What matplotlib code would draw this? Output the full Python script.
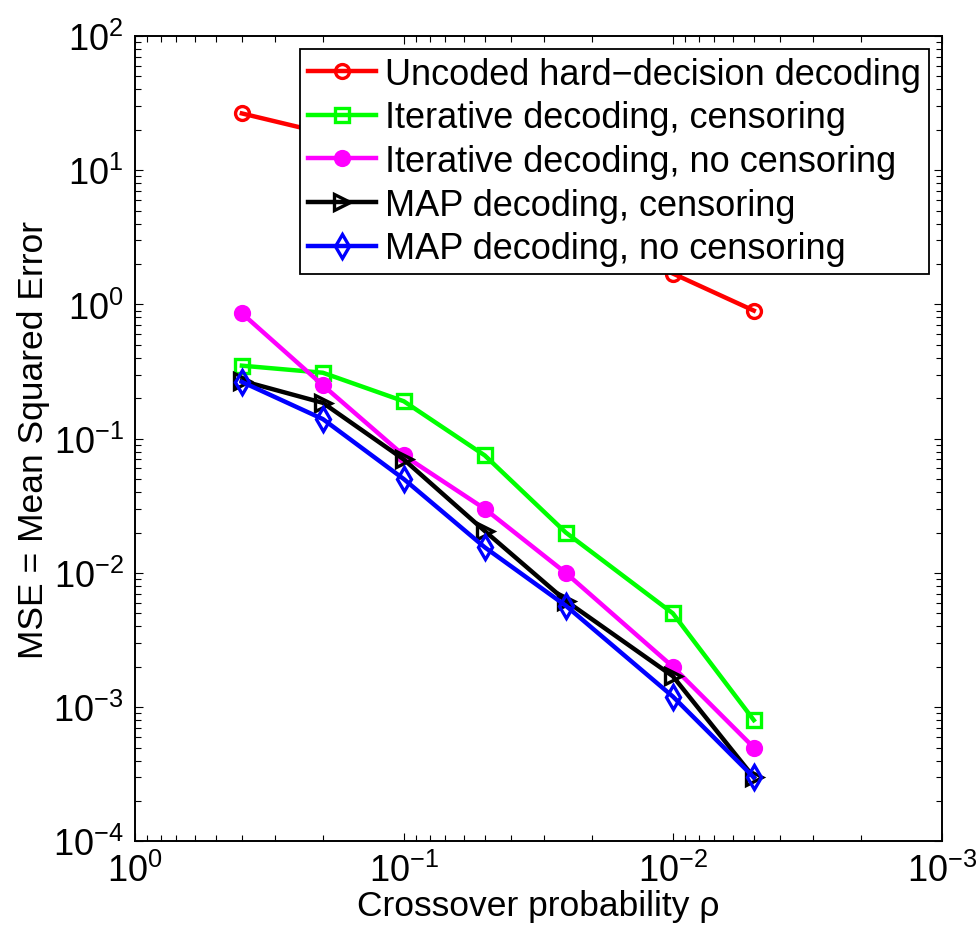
import matplotlib
matplotlib.use("Agg")
import matplotlib.pyplot as plt
from matplotlib.ticker import LogLocator, NullFormatter

plt.rcParams['font.family'] = ['Liberation Sans', 'DejaVu Sans']
plt.rcParams['mathtext.fontset'] = 'custom'
plt.rcParams['mathtext.rm'] = 'Liberation Sans'

# crossover probability (x) and MSE per decoder
rho = [0.4, 0.2, 0.1, 0.05, 0.025, 0.01, 0.005]
mse_uncoded = [26.5, 19, 12, 7.5, 4.0, 1.7, 0.9]
mse_iter_cens = [0.35, 0.31, 0.19, 0.075, 0.02, 0.005, 0.0008]
mse_iter_nocens = [0.86, 0.25, 0.075, 0.03, 0.01, 0.002, 0.0005]
mse_map_cens = [0.27, 0.185, 0.07, 0.0205, 0.0062, 0.0017, 0.0003]
mse_map_nocens = [0.265, 0.14, 0.05, 0.0155, 0.0057, 0.0012, 0.0003]

labels = ["Uncoded hard\u2212decision decoding",
          "Iterative decoding, censoring",
          "Iterative decoding, no censoring",
          "MAP decoding, censoring",
          "MAP decoding, no censoring"]

x_decades = [1, 0.1, 0.01, 0.001]
y_decades = [1e-4, 1e-3, 1e-2, 1e-1, 1, 10, 100]

fig = plt.figure(figsize=(9.77, 9.37), dpi=100)
ax = fig.add_axes([0.138, 0.101, 0.826, 0.8595])

lw = 3.2
ms = 10
mew = 2.4
ax.plot(rho, mse_uncoded, color='#ff0000', lw=lw, marker='o', ms=ms,
        mfc='none', mew=mew, label=labels[0])
ax.plot(rho, mse_iter_cens, color='#00ff00', lw=lw, marker='s', ms=ms,
        mfc='none', mew=mew, label=labels[1])
ax.plot(rho, mse_iter_nocens, color='#ff00ff', lw=lw, marker='o', ms=10,
        mfc='#ff00ff', mew=mew, label=labels[2])
ax.plot(rho, mse_map_cens, color='black', lw=lw, marker='>', ms=12,
        mfc='none', mew=mew, label=labels[3])
ax.plot(rho, mse_map_nocens, color='#0000ff', lw=lw, marker='d', ms=12,
        mfc='none', mew=mew, label=labels[4])

ax.set_xscale('log')
ax.set_yscale('log')
ax.set_xlim(1, 1e-3)
ax.set_ylim(1e-4, 1e2)

ax.set_xticks(x_decades)
ax.set_yticks(y_decades)
ax.xaxis.set_minor_locator(LogLocator(base=10, subs=range(2, 10), numticks=20))
ax.yaxis.set_minor_locator(LogLocator(base=10, subs=range(2, 10), numticks=20))
ax.xaxis.set_minor_formatter(NullFormatter())
ax.yaxis.set_minor_formatter(NullFormatter())

ax.tick_params(which='both', direction='in', top=True, right=True, width=0.8)
ax.tick_params(which='major', length=6, labelsize=26, pad=8)
ax.tick_params(which='minor', length=4)
for s in ax.spines.values():
    s.set_linewidth(1.4)

ax.set_xlabel("Crossover probability \u03c1", fontsize=25.5, labelpad=0)
ax.set_ylabel("MSE = Mean Squared Error", fontsize=25.5, labelpad=2)

leg = ax.legend(loc='upper right', fontsize=26, fancybox=False, framealpha=1,
                edgecolor='black', handlelength=1.9, handletextpad=0.25,
                labelspacing=0.24, borderpad=0.22, borderaxespad=0.35)
leg.get_frame().set_linewidth(1.3)

fig.savefig("out.png", dpi=100)
